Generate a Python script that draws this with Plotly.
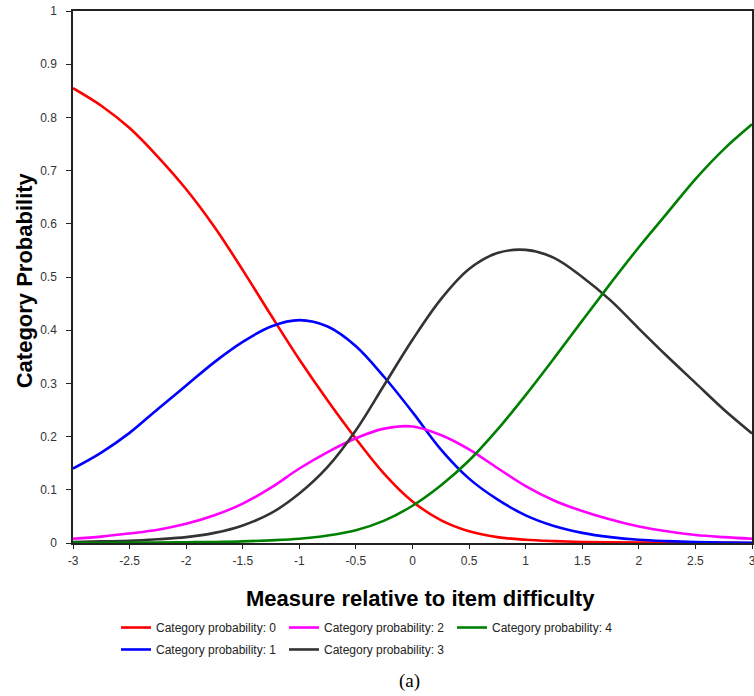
import plotly.graph_objects as go

# ---- data ----
measure = [-3, -2.75, -2.5, -2.25, -2, -1.75, -1.5, -1.25, -1, -0.75, -0.5, -0.25,
           0, 0.25, 0.5, 0.75, 1, 1.25, 1.5, 1.75, 2, 2.25, 2.5, 2.75, 3]

cat0 = [0.855, 0.822, 0.780, 0.726, 0.665, 0.594, 0.513, 0.428, 0.345, 0.268, 0.196, 0.130,
        0.078, 0.043, 0.022, 0.011, 0.006, 0.0035, 0.002, 0.0012, 0.0008, 0.0005, 0.0003, 0.0002, 0.0001]
cat1 = [0.140, 0.170, 0.207, 0.252, 0.296, 0.340, 0.378, 0.407, 0.419, 0.407, 0.370, 0.312,
        0.246, 0.176, 0.121, 0.082, 0.052, 0.032, 0.019, 0.011, 0.006, 0.0035, 0.002, 0.001, 0.0005]
cat2 = [0.008, 0.012, 0.018, 0.025, 0.036, 0.052, 0.074, 0.104, 0.140, 0.171, 0.197, 0.215,
        0.219, 0.203, 0.176, 0.141, 0.107, 0.080, 0.060, 0.044, 0.031, 0.022, 0.015, 0.011, 0.008]
cat3 = [0.002, 0.003, 0.004, 0.007, 0.011, 0.019, 0.033, 0.056, 0.093, 0.143, 0.212, 0.297,
        0.382, 0.458, 0.515, 0.545, 0.551, 0.536, 0.500, 0.456, 0.403, 0.351, 0.301, 0.251, 0.206]
cat4 = [0.0003, 0.0005, 0.0007, 0.001, 0.0015, 0.002, 0.003, 0.005, 0.008, 0.014, 0.024, 0.042,
        0.070, 0.108, 0.155, 0.213, 0.278, 0.347, 0.418, 0.488, 0.556, 0.620, 0.684, 0.740, 0.787]

series_names = ["Category probability: 0", "Category probability: 1", "Category probability: 2",
                "Category probability: 3", "Category probability: 4"]
series_values = [cat0, cat1, cat2, cat3, cat4]
series_colors = ["#ff0000", "#0000ff", "#ff00ff", "#333333", "#008000"]
series_legend = ["legend", "legend2", "legend", "legend2", "legend"]

x_ticks = [-3, -2.5, -2, -1.5, -1, -0.5, 0, 0.5, 1, 1.5, 2, 2.5, 3]
x_ticktext = ["-3", "-2.5", "-2", "-1.5", "-1", "-0.5", "0", "0.5", "1", "1.5", "2", "2.5", "3"]
y_ticks = [0, 0.1, 0.2, 0.3, 0.4, 0.5, 0.6, 0.7, 0.8, 0.9, 1]
y_ticktext = ["0", "0.1", "0.2", "0.3", "0.4", "0.5", "0.6", "0.7", "0.8", "0.9", "1"]

fig = go.Figure()
for name, vals, col, lg in zip(series_names, series_values, series_colors, series_legend):
    fig.add_trace(go.Scatter(x=measure, y=vals, mode="lines", name=name,
                             line=dict(color=col, width=2.6, shape="spline", smoothing=1.0),
                             legend=lg))

tick_font = dict(family="Liberation Sans, Arial", size=12, color="#333333")
leg_font = dict(family="Liberation Sans, Arial", size=12, color="#222222")
fig.update_layout(
    width=754, height=696,
    margin=dict(l=73, r=2, t=11, b=153, autoexpand=False),
    paper_bgcolor="white", plot_bgcolor="white",
    xaxis=dict(range=[-3, 3], tickvals=x_ticks, ticktext=x_ticktext, showgrid=False,
               zeroline=False, showline=True, linecolor="#222222", linewidth=1.5, mirror=True,
               ticks="outside", ticklen=4, tickwidth=1.3, tickcolor="#222222",
               tickfont=tick_font, ticklabelstandoff=2, automargin=False,
               ticklabeloverflow="allow"),
    yaxis=dict(range=[0, 1], tickvals=y_ticks, ticktext=y_ticktext, showgrid=False,
               zeroline=False, showline=True, linecolor="#222222", linewidth=1.5, mirror=True,
               ticks="outside", ticklen=5, tickwidth=1.3, tickcolor="#222222",
               tickfont=tick_font, ticklabelstandoff=7, automargin=False,
               ticklabeloverflow="allow"),
    xaxis2=dict(range=[-3, 3], overlaying="x", tickvals=x_ticks, showticklabels=False,
                showgrid=False, zeroline=False, showline=False, ticks="inside", ticklen=4,
                tickwidth=1.3, tickcolor="#222222", anchor="y", automargin=False),
    yaxis2=dict(range=[0, 1], overlaying="y", tickvals=y_ticks, showticklabels=False,
                showgrid=False, zeroline=False, showline=False, ticks="inside", ticklen=5,
                tickwidth=1.3, tickcolor="#222222", anchor="x", automargin=False),
    legend=dict(orientation="h", x=0.0633, xanchor="left", y=-0.1316, yanchor="top",
                entrywidth=123, font=leg_font, bgcolor="rgba(0,0,0,0)"),
    legend2=dict(orientation="h", x=0.0633, xanchor="left", y=-0.1729, yanchor="top",
                 entrywidth=123, font=leg_font, bgcolor="rgba(0,0,0,0)"),
    showlegend=True,
)

fig.add_annotation(text="<b>Category Probability</b>", textangle=-90, xref="paper", yref="paper",
                   x=-0.072, y=0.494, xanchor="center", yanchor="middle", showarrow=False,
                   font=dict(family="Liberation Sans, Arial", size=22, color="#000000"))
fig.add_annotation(text="<b>Measure relative to item difficulty</b>", xref="paper", yref="paper",
                   x=0.5125, y=-0.1034, xanchor="center", yanchor="middle", showarrow=False,
                   font=dict(family="Liberation Sans, Arial", size=22, color="#000000"))
fig.add_annotation(text="(a)", xref="paper", yref="paper", x=0.4963, y=-0.2594,
                   xanchor="center", yanchor="middle", showarrow=False,
                   font=dict(family="Liberation Serif, Times New Roman", size=19, color="#000000"))

fig.write_html("out.html", config={"displayModeBar": False},
               post_script="document.body.style.margin='0';document.body.style.overflow='hidden';")
